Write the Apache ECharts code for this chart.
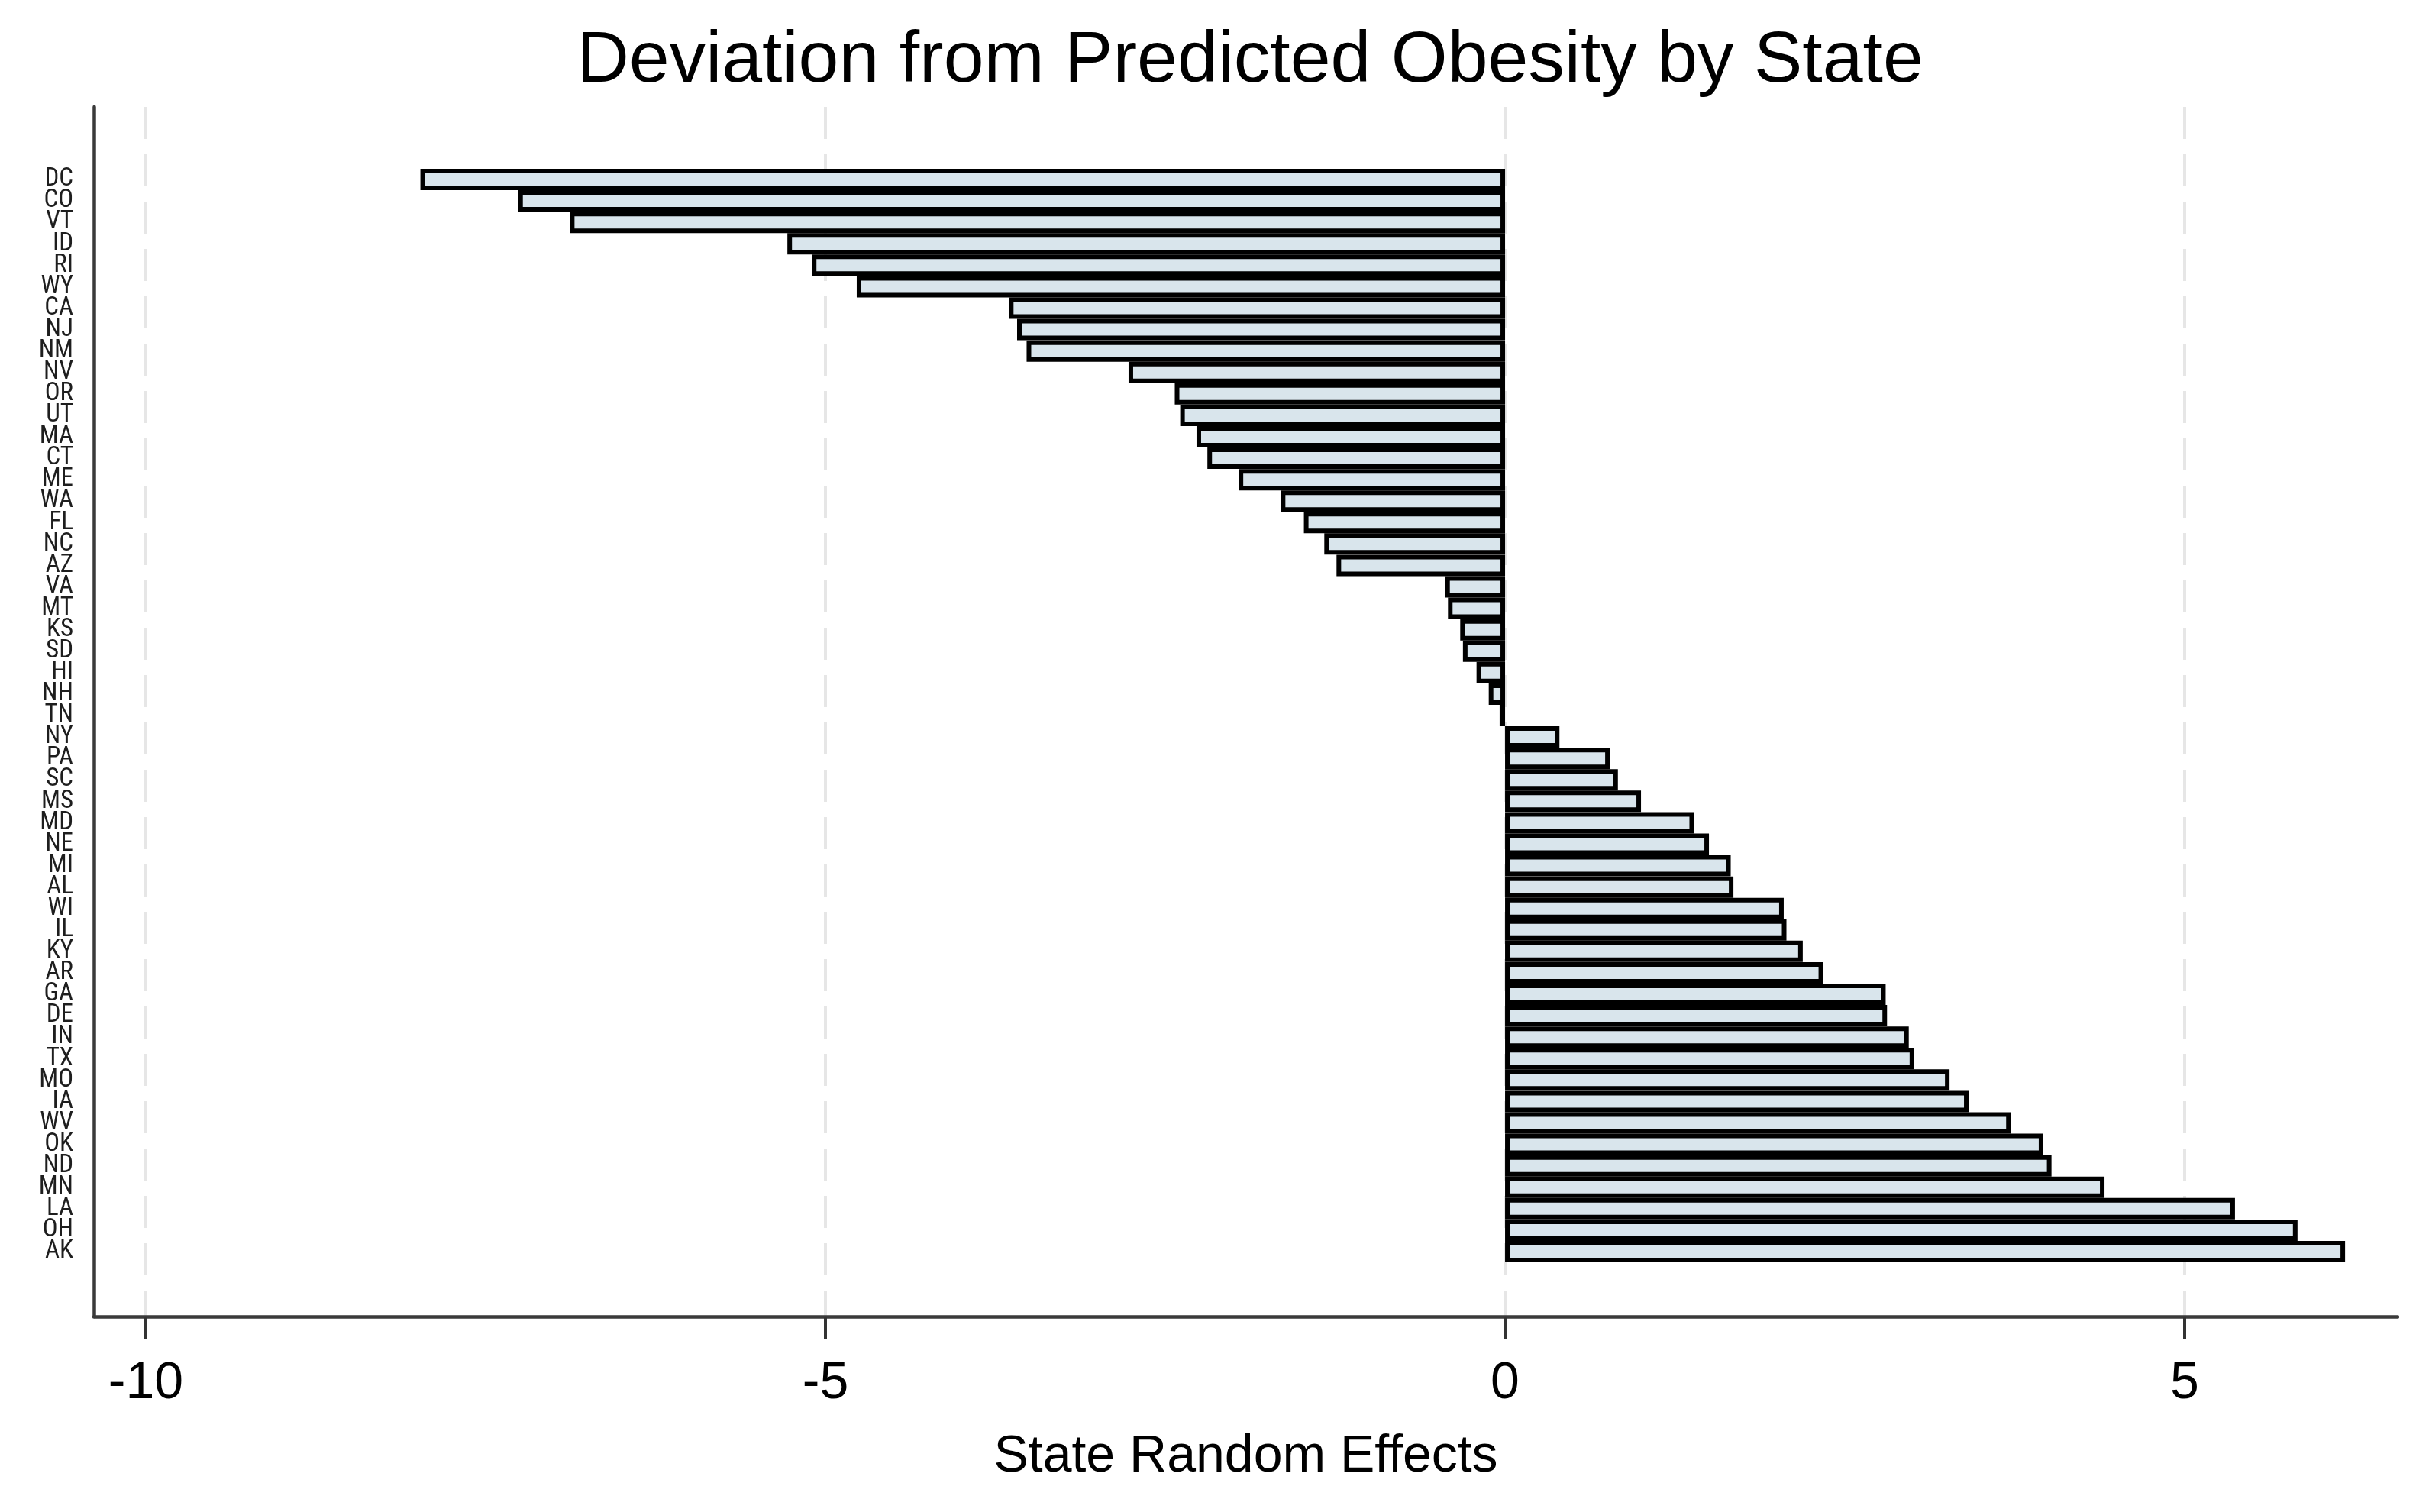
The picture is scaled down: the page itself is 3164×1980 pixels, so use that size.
<!DOCTYPE html>
<html>
<head>
<meta charset="utf-8">
<script src="https://cdn.jsdelivr.net/npm/echarts@6/dist/echarts.min.js"></script>
<style>
  html, body { margin: 0; padding: 0; background: #fff; }
  #chart { width: 3164px; height: 1980px; }
</style>
</head>
<body>
<div id="chart"></div>
<script>
// ---- data ----
const titleText = 'Deviation from Predicted Obesity by State';
const xAxisName = 'State Random Effects';
const states = ['DC','CO','VT','ID','RI','WY','CA','NJ','NM','NV',
                'OR','UT','MA','CT','ME','WA','FL','NC','AZ','VA',
                'MT','KS','SD','HI','NH','TN','NY','PA','SC','MS',
                'MD','NE','MI','AL','WI','IL','KY','AR','GA','DE',
                'IN','TX','MO','IA','WV','OK','ND','MN','LA','OH','AK'];
const effects = [-7.98,-7.26,-6.88,-5.28,-5.10,-4.77,-3.65,-3.59,-3.52,-2.77,
                 -2.43,-2.39,-2.27,-2.19,-1.96,-1.65,-1.48,-1.33,-1.24,-0.44,
                 -0.42,-0.33,-0.31,-0.21,-0.12,-0.04,0.40,0.77,0.83,1.00,
                 1.39,1.50,1.66,1.68,2.05,2.07,2.19,2.34,2.80,2.81,
                 2.97,3.01,3.27,3.41,3.72,3.96,4.02,4.41,5.37,5.83,6.18];
const xTickMin = -10;
const xTickMax = 5;
const xTickStep = 5;
const xRangeMin = -10.382;
const xRangeMax = 6.567;

// ---- font detection (condensed face for the state labels) ----
function hasFont(name) {
  const ctx = document.createElement('canvas').getContext('2d');
  ctx.font = '100px monospace';
  const a = ctx.measureText('DCWMabcOH').width;
  ctx.font = '100px "' + name + '", monospace';
  const b = ctx.measureText('DCWMabcOH').width;
  return a !== b;
}
const candidates = ['Roboto Condensed', 'Liberation Sans Narrow', 'DejaVu Sans Condensed'];
const found = candidates.filter(hasFont);
const labelFont = found.length ? found[0] : 'Liberation Sans';
const labelSize = found.length ? 33 : 29;
const mainFont = 'Liberation Sans';

const chart = echarts.init(document.getElementById('chart'), null, { renderer: 'canvas' });

const option = {
  animation: false,
  backgroundColor: '#ffffff',
  title: {
    text: titleText,
    left: 1632,
    top: 76,
    textAlign: 'center',
    textVerticalAlign: 'middle',
    textStyle: { fontFamily: mainFont, fontSize: 95, fontWeight: 'normal', color: '#000' }
  },
  grid: [
    { left: 123, right: 24, top: 140, bottom: 256 },   // frame
    { left: 191, right: 303, top: 140, bottom: 256 },  // ticks / grid lines
    { left: 123, right: 24, top: 221, bottom: 327 }    // bars
  ],
  xAxis: [
    {
      gridIndex: 0, type: 'value', min: 0, max: 1,
      axisLine: { show: true, onZero: false, lineStyle: { color: '#3a3a3a', width: 4.5 } },
      axisTick: { show: false }, axisLabel: { show: false }, splitLine: { show: false },
      name: xAxisName, nameLocation: 'middle', nameGap: 150,
      nameTextStyle: { fontFamily: mainFont, fontSize: 68, color: '#000' }
    },
    {
      gridIndex: 1, type: 'value', min: xTickMin, max: xTickMax, interval: xTickStep,
      axisLine: { show: false },
      axisTick: { show: true, length: 29, lineStyle: { color: '#333', width: 4 } },
      axisLabel: { fontFamily: mainFont, fontSize: 68, margin: 54, color: '#000' },
      splitLine: { show: true, lineStyle: { color: '#e6e6e6', width: 4, type: [42, 20] } }
    },
    {
      gridIndex: 2, type: 'value', min: xRangeMin, max: xRangeMax, show: false,
      splitLine: { show: false }
    }
  ],
  yAxis: [
    {
      gridIndex: 0, type: 'value', min: 0, max: 1,
      axisLine: { show: true, onZero: false, lineStyle: { color: '#3a3a3a', width: 4.5 } },
      axisTick: { show: false }, axisLabel: { show: false }, splitLine: { show: false }
    },
    { gridIndex: 1, type: 'value', min: 0, max: 1, show: false, splitLine: { show: false } },
    {
      gridIndex: 2, type: 'category', data: states, inverse: true,
      axisLine: { show: false }, axisTick: { show: false }, splitLine: { show: false },
      axisLabel: { interval: 0, margin: 27, fontFamily: labelFont, fontSize: labelSize, color: '#1e1e1e' }
    }
  ],
  series: [
    {
      type: 'bar', xAxisIndex: 2, yAxisIndex: 2, data: effects,
      barWidth: 28, z: 3,
      itemStyle: { color: '#d9e5ec', borderColor: '#000', borderWidth: 6 }
    }
  ]
};
chart.setOption(option);
</script>
</body>
</html>
